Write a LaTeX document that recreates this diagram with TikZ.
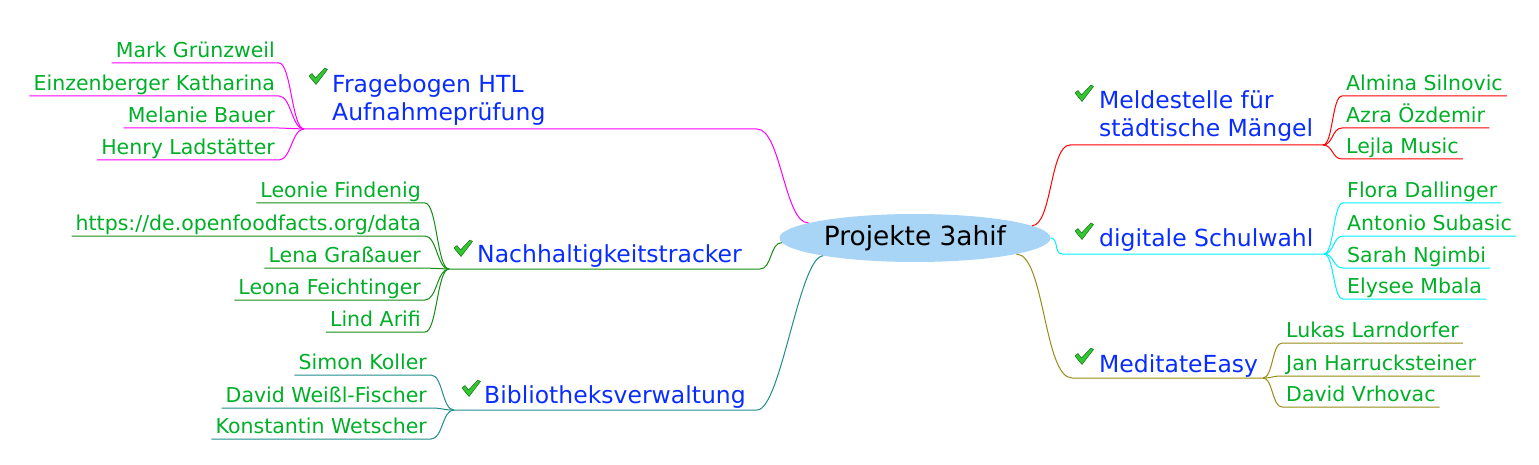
\documentclass[tikz,border=0pt]{standalone}
\usepackage{fontspec}
\setmainfont{DejaVu Sans}
\usetikzlibrary{shapes.geometric}
\definecolor{rootblue}{RGB}{168,212,246}
\definecolor{topicblue}{RGB}{10,45,255}
\definecolor{leafgreen}{RGB}{0,175,40}
\definecolor{fbcol}{RGB}{255,0,255}
\definecolor{nhcol}{RGB}{20,140,20}
\definecolor{bibcol}{RGB}{30,140,140}
\definecolor{melcol}{RGB}{255,0,0}
\definecolor{swcol}{RGB}{0,240,255}
\definecolor{medcol}{RGB}{150,140,20}
\definecolor{tickfill}{RGB}{50,200,50}
\definecolor{tickline}{RGB}{20,110,20}

\begin{document}
\begin{tikzpicture}[
  x = 1pt, y = -1pt,
  root/.style = {ellipse, fill = rootblue, minimum width = 271pt, minimum height = 48pt,
                 inner sep = 0pt, font = \fontsize{26.4}{30}\selectfont},
  topic/.style = {text = topicblue, inner sep = 0pt, anchor = base west, align = left,
                  font = \fontsize{23.5}{28}\selectfont},
  member/.style = {text = leafgreen, inner xsep = 4pt, inner ysep = 0pt,
                   text height = 15pt, text depth = 5pt, font = \fontsize{20.5}{24}\selectfont},
  branch/.style = {line width = 1pt},
  checkmark/.pic = {
    \filldraw[fill = tickfill, draw = tickline, line width = 0.5pt, line join = round]
      (0,8) -- (3,5.5) -- (6.5,10) -- (16,0) -- (18.5,1.5) -- (7,16.5) -- cycle;
  },
  ]
  \useasboundingbox (0,0) rectangle (1539,465);

  \node[root] (root) at (915,238) {Projekte 3ahif};

  \node[topic] (fb)  at (332,121)  {Fragebogen HTL\\Aufnahmeprüfung};
  \node[topic] (nh)  at (477,262)  {Nachhaltigkeitstracker};
  \node[topic] (bib) at (484,403)  {Bibliotheksverwaltung};
  \node[topic] (mel) at (1099,137) {Meldestelle für\\städtische Mängel};
  \node[topic] (sw)  at (1099,247) {digitale Schulwahl};
  \node[topic] (med) at (1099,372) {MeditateEasy};

  \pic at (309,68)  {checkmark};
  \pic at (454,240) {checkmark};
  \pic at (462,380) {checkmark};
  \pic at (1075,85) {checkmark};
  \pic at (1075,223) {checkmark};
  \pic at (1075,348) {checkmark};

  \coordinate (fb-fork)  at (304,129);  \coordinate (fb-join)  at (757,129);
  \coordinate (nh-fork)  at (449,269);  \coordinate (nh-join)  at (760,269);
  \coordinate (bib-fork) at (454,410);  \coordinate (bib-join) at (757,410);
  \coordinate (mel-fork) at (1323,145); \coordinate (mel-join) at (1070,145);
  \coordinate (sw-fork)  at (1324,254); \coordinate (sw-join)  at (1062,254);
  \coordinate (med-fork) at (1263,378); \coordinate (med-join) at (1072,378);

  \node[member, anchor = south east] (fb1) at (279,63)  {Mark Grünzweil};
  \node[member, anchor = south east] (fb2) at (279,96)  {Einzenberger Katharina};
  \node[member, anchor = south east] (fb3) at (279,128) {Melanie Bauer};
  \node[member, anchor = south east] (fb4) at (279,160) {Henry Ladstätter};

  \node[member, anchor = south east] (nh1) at (425,203) {Leonie Findenig};
  \node[member, anchor = south east] (nh2) at (425,236) {https://de.openfoodfacts.org/data};
  \node[member, anchor = south east] (nh3) at (425,268) {Lena Graßauer};
  \node[member, anchor = south east] (nh4) at (425,300) {Leona Feichtinger};
  \node[member, anchor = south east] (nh5) at (425,332) {Lind Arifi};

  \node[member, anchor = south east] (bib1) at (431,375) {Simon Koller};
  \node[member, anchor = south east] (bib2) at (431,408) {David Weißl-Fischer};
  \node[member, anchor = south east] (bib3) at (431,439) {Konstantin Wetscher};

  \node[member, anchor = south west] (mel1) at (1342,96)  {Almina Silnovic};
  \node[member, anchor = south west] (mel2) at (1342,128) {Azra Özdemir};
  \node[member, anchor = south west] (mel3) at (1342,159) {Lejla Music};

  \node[member, anchor = south west] (sw1) at (1343,203) {Flora Dallinger};
  \node[member, anchor = south west] (sw2) at (1343,236) {Antonio Subasic};
  \node[member, anchor = south west] (sw3) at (1343,268) {Sarah Ngimbi};
  \node[member, anchor = south west] (sw4) at (1343,299) {Elysee Mbala};

  \node[member, anchor = south west] (med1) at (1282,343) {Lukas Larndorfer};
  \node[member, anchor = south west] (med2) at (1282,376) {Jan Harrucksteiner};
  \node[member, anchor = south west] (med3) at (1282,407) {David Vrhovac};

  \draw[branch, fbcol]  (root.172) .. controls +(-24,0) and +(24,0) .. (fb-join) -- (fb-fork);
  \draw[branch, nhcol]  (root.182) .. controls +(-12,0) and +(12,0) .. (nh-join) -- (nh-fork);
  \draw[branch, bibcol] (root.191) .. controls +(-24,0) and +(24,0) .. (bib-join) -- (bib-fork);
  \draw[branch, melcol] (root.6)   .. controls +(20,0) and +(-20,0) .. (mel-join) -- (mel-fork);
  \draw[branch, swcol]  (root.0)   .. controls +(8,0) and +(-8,0) .. (sw-join) -- (sw-fork);
  \draw[branch, medcol] (root.351) .. controls +(28,0) and +(-28,0) .. (med-join) -- (med-fork);

  \draw[branch, fbcol] (fb1.south west) -- (fb1.south east) .. controls +(12,0) and +(-12,0) .. (fb-fork);
  \draw[branch, fbcol] (fb2.south west) -- (fb2.south east) .. controls +(12,0) and +(-12,0) .. (fb-fork);
  \draw[branch, fbcol] (fb3.south west) -- (fb3.south east) .. controls +(12,0) and +(-12,0) .. (fb-fork);
  \draw[branch, fbcol] (fb4.south west) -- (fb4.south east) .. controls +(12,0) and +(-12,0) .. (fb-fork);

  \draw[branch, nhcol] (nh1.south west) -- (nh1.south east) .. controls +(12,0) and +(-12,0) .. (nh-fork);
  \draw[branch, nhcol] (nh2.south west) -- (nh2.south east) .. controls +(12,0) and +(-12,0) .. (nh-fork);
  \draw[branch, nhcol] (nh3.south west) -- (nh3.south east) .. controls +(12,0) and +(-12,0) .. (nh-fork);
  \draw[branch, nhcol] (nh4.south west) -- (nh4.south east) .. controls +(12,0) and +(-12,0) .. (nh-fork);
  \draw[branch, nhcol] (nh5.south west) -- (nh5.south east) .. controls +(12,0) and +(-12,0) .. (nh-fork);

  \draw[branch, bibcol] (bib1.south west) -- (bib1.south east) .. controls +(12,0) and +(-12,0) .. (bib-fork);
  \draw[branch, bibcol] (bib2.south west) -- (bib2.south east) .. controls +(12,0) and +(-12,0) .. (bib-fork);
  \draw[branch, bibcol] (bib3.south west) -- (bib3.south east) .. controls +(12,0) and +(-12,0) .. (bib-fork);

  \draw[branch, melcol] (mel-fork) .. controls +(10,0) and +(-10,0) .. (mel1.south west) -- (mel1.south east);
  \draw[branch, melcol] (mel-fork) .. controls +(10,0) and +(-10,0) .. (mel2.south west) -- (mel2.south east);
  \draw[branch, melcol] (mel-fork) .. controls +(10,0) and +(-10,0) .. (mel3.south west) -- (mel3.south east);

  \draw[branch, swcol] (sw-fork) .. controls +(10,0) and +(-10,0) .. (sw1.south west) -- (sw1.south east);
  \draw[branch, swcol] (sw-fork) .. controls +(10,0) and +(-10,0) .. (sw2.south west) -- (sw2.south east);
  \draw[branch, swcol] (sw-fork) .. controls +(10,0) and +(-10,0) .. (sw3.south west) -- (sw3.south east);
  \draw[branch, swcol] (sw-fork) .. controls +(10,0) and +(-10,0) .. (sw4.south west) -- (sw4.south east);

  \draw[branch, medcol] (med-fork) .. controls +(10,0) and +(-10,0) .. (med1.south west) -- (med1.south east);
  \draw[branch, medcol] (med-fork) .. controls +(10,0) and +(-10,0) .. (med2.south west) -- (med2.south east);
  \draw[branch, medcol] (med-fork) .. controls +(10,0) and +(-10,0) .. (med3.south west) -- (med3.south east);
\end{tikzpicture}
\end{document}
